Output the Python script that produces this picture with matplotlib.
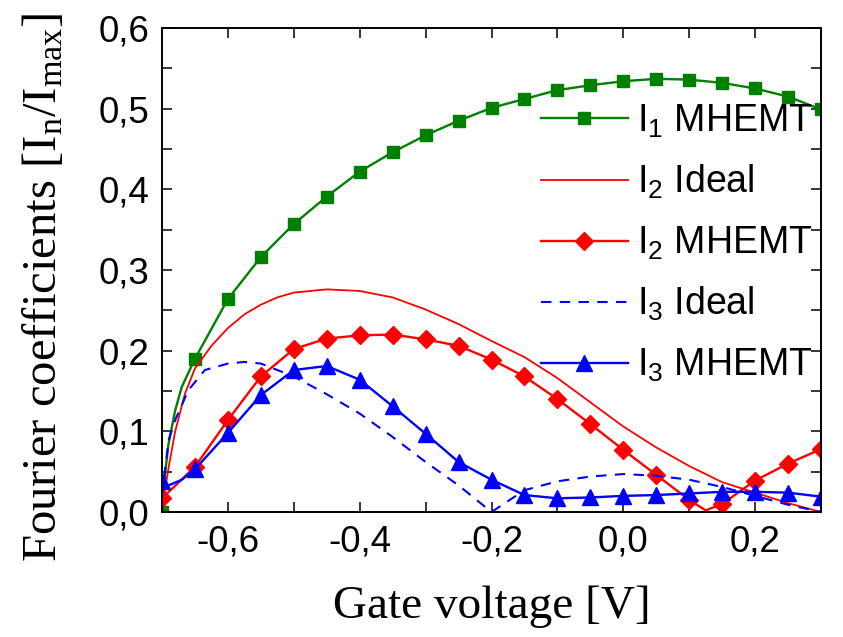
import numpy as np
import matplotlib
matplotlib.use('Agg')
import matplotlib.pyplot as plt
from matplotlib.ticker import MultipleLocator, FuncFormatter

# values
# I1 MHEMT (green squares)
v_i1 = [-0.7, -0.695, -0.69, -0.68, -0.67, -0.65, -0.6, -0.55, -0.5, -0.45, -0.4, -0.35,
        -0.3, -0.25, -0.2, -0.15, -0.1, -0.05, 0.0, 0.05, 0.1, 0.15, 0.2, 0.25, 0.3]
i1_mhemt = [0.0, 0.05, 0.085, 0.126, 0.155, 0.19, 0.264, 0.316, 0.357, 0.391, 0.422, 0.446,
            0.467, 0.485, 0.501, 0.512, 0.523, 0.529, 0.534, 0.537, 0.536, 0.532, 0.525, 0.515, 0.499]

# I2 ideal (thin red)
v_i2i = [-0.7, -0.695, -0.69, -0.68, -0.665, -0.65, -0.625, -0.6, -0.575, -0.55, -0.525, -0.5,
         -0.45, -0.4, -0.35, -0.3, -0.25, -0.2, -0.15, -0.1, -0.05, 0.0, 0.05, 0.1, 0.15, 0.2,
         0.25, 0.3]
i2_ideal = [0.0, 0.03, 0.055, 0.1, 0.147, 0.178, 0.206, 0.228, 0.245, 0.257, 0.266, 0.272,
            0.276, 0.274, 0.266, 0.251, 0.233, 0.212, 0.192, 0.166, 0.136, 0.106, 0.08, 0.057,
            0.037, 0.024, 0.011, 0.0]

# I2 MHEMT (red diamonds)
v_i2 = [-0.7, -0.65, -0.6, -0.55, -0.5, -0.45, -0.4, -0.35, -0.3, -0.25, -0.2, -0.15,
        -0.1, -0.05, 0.0, 0.05, 0.1, 0.125, 0.15, 0.2, 0.25, 0.3]
i2_mhemt = [0.017, 0.056, 0.114, 0.168, 0.202, 0.215, 0.219, 0.22, 0.214, 0.206, 0.189, 0.168,
            0.14, 0.109, 0.077, 0.046, 0.015, 0.002, 0.01, 0.039, 0.06, 0.078]

# I3 ideal (dashed blue)
v_i3i = [-0.7, -0.695, -0.69, -0.68, -0.66, -0.635, -0.6, -0.575, -0.55, -0.5, -0.45, -0.4,
         -0.35, -0.3, -0.25, -0.2, -0.15, -0.1, -0.05, 0.0, 0.05, 0.1, 0.15, 0.2, 0.25, 0.3]
i3_ideal = [0.02, 0.055, 0.089, 0.114, 0.151, 0.176, 0.184, 0.186, 0.184, 0.168, 0.146, 0.122,
            0.093, 0.062, 0.033, 0.0, 0.027, 0.038, 0.044, 0.047, 0.045, 0.04, 0.031, 0.02, 0.009, 0.0]

# I3 MHEMT (blue triangles)
v_i3 = [-0.7, -0.69, -0.67, -0.65, -0.6, -0.55, -0.5, -0.45, -0.4, -0.35, -0.3, -0.25,
        -0.2, -0.15, -0.1, -0.05, 0.0, 0.05, 0.1, 0.15, 0.2, 0.25, 0.3]
i3_mhemt = [0.038, 0.033, 0.04, 0.053, 0.098, 0.145, 0.176, 0.181, 0.164, 0.131, 0.097, 0.062,
            0.04, 0.021, 0.017, 0.018, 0.02, 0.021, 0.023, 0.025, 0.025, 0.024, 0.019]

GREEN = '#008000'
RED = '#ff0000'
BLUE = '#0000ff'


def marks(v):
    # markers sit on the 0.05 V grid only
    k = (np.array(v) + 0.7) / 0.05
    return list(np.isclose(k, np.round(k)))


plt.rcParams['font.family'] = ['Liberation Sans', 'DejaVu Sans']
plt.rcParams['mathtext.default'] = 'regular'

fig = plt.figure(figsize=(8.43, 6.37), dpi=100)
ax = fig.add_axes([162/843, 125/637, 659/843, 484/637])

ax.plot(v_i1, i1_mhemt, color=GREEN, lw=1.7, marker='s', ms=9, markevery=marks(v_i1),
        label='I$_1$ MHEMT')
ax.plot(v_i2i, i2_ideal, color=RED, lw=1.3, label='I$_2$ Ideal')
ax.plot(v_i2, i2_mhemt, color=RED, lw=1.7, marker='D', ms=9, markevery=marks(v_i2),
        label='I$_2$ MHEMT')
ax.plot(v_i3i, i3_ideal, color=BLUE, lw=1.5, ls=(0, (5, 4)), label='I$_3$ Ideal')
ax.plot(v_i3, i3_mhemt, color=BLUE, lw=1.7, marker='^', ms=11, markevery=marks(v_i3),
        label='I$_3$ MHEMT')

ax.set_xlim(-0.7, 0.3)
ax.set_ylim(0, 0.6)
ax.xaxis.set_major_locator(MultipleLocator(0.2))
ax.xaxis.set_minor_locator(MultipleLocator(0.1))
ax.yaxis.set_major_locator(MultipleLocator(0.1))
ax.yaxis.set_minor_locator(MultipleLocator(0.05))


def comma(x, pos):
    if abs(x) < 1e-9:
        x = 0.0
    return '{:.1f}'.format(x).replace('.', ',')


ax.xaxis.set_major_formatter(FuncFormatter(comma))
ax.yaxis.set_major_formatter(FuncFormatter(comma))
ax.tick_params(which='both', direction='in', top=True, right=True, length=7, width=1.1)
ax.tick_params(which='major', labelsize=26.5)
ax.tick_params(axis='x', pad=9)
ax.tick_params(axis='y', pad=9)
for s in ax.spines.values():
    s.set_linewidth(1.4)

ax.set_xlabel('Gate voltage [V]', family='Liberation Serif', fontsize=34, labelpad=19)
ax.set_ylabel('Fourier coefficients [I$_n$/I$_{max}$]', family='Liberation Serif',
              fontsize=35)
ax.yaxis.set_label_coords(-0.145, 0.465)

ax.legend(loc='upper right', bbox_to_anchor=(0.987, 0.846), frameon=False, fontsize=27,
          borderpad=0, borderaxespad=0, handlelength=2.3, handletextpad=0.25,
          labelspacing=0.62)

fig.savefig('out.png', dpi=100)
